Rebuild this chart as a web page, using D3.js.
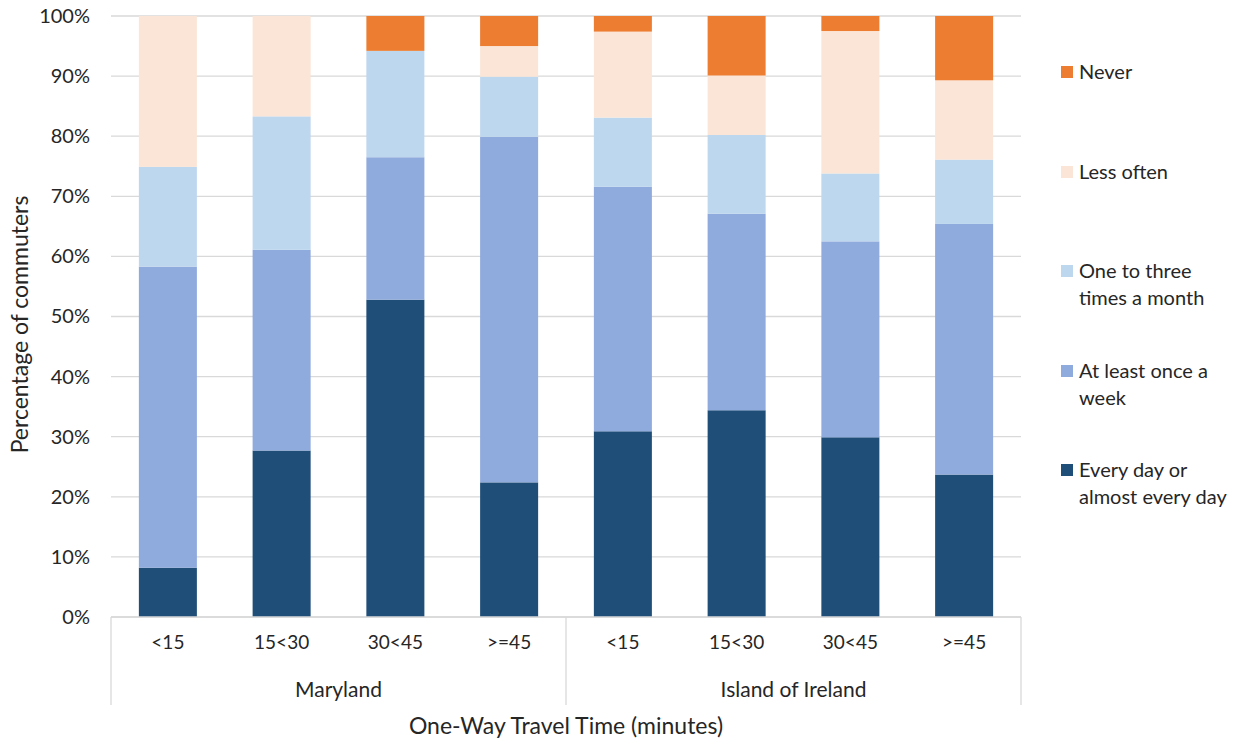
<!DOCTYPE html>
<html>
<head>
<meta charset="utf-8">
<script src="https://cdn.jsdelivr.net/npm/d3@7"></script>
<style>
  body { margin: 0; background: #fff; }
  svg text { font-family: Lato, "Liberation Sans", sans-serif; fill: #262626; }
</style>
</head>
<body>
<div id="chart"></div>
<script>
// Categories
const regions = ["Maryland", "Island of Ireland"];
const travelTimes = ["<15", "15<30", "30<45", ">=45"];
const seriesNames = ["Every day or almost every day", "At least once a week", "One to three times a month", "Less often", "Never"];
const seriesColors = ["#1f4e79", "#8faadc", "#bdd7ee", "#fbe5d6", "#ed7d31"];
const yTicks = [0, 10, 20, 30, 40, 50, 60, 70, 80, 90, 100];

// Values (%) per series, in order Maryland <15..>=45, Ireland <15..>=45
const everyDay     = [8.2, 27.7, 52.8, 22.4, 30.9, 34.4, 29.9, 23.7];
const weekly       = [50.1, 33.4, 23.7, 57.5, 40.7, 32.7, 32.6, 41.7];
const monthly      = [16.6, 22.2, 17.7, 10.0, 11.5, 13.1, 11.3, 10.7];
const lessOften    = [25.1, 16.7, 0.0, 5.1, 14.3, 9.9, 23.7, 13.2];
const never        = [0.0, 0.0, 5.8, 5.0, 2.6, 9.9, 2.5, 10.7];

const seriesValues = [everyDay, weekly, monthly, lessOften, never];

// Build rows for the stack
const rows = [];
regions.forEach((r, ri) => {
    travelTimes.forEach((t, ti) => {
        const idx = ri * travelTimes.length + ti;
        const row = {key: r + "|" + t, region: r, time: t};
        seriesNames.forEach((s, si) => { row[s] = seriesValues[si][idx]; });
        rows.push(row);
    });
});

const W = 1247, H = 742;
const margin = {top: 16, right: 226, bottom: 125, left: 111};
const width = W - margin.left - margin.right;
const height = H - margin.top - margin.bottom;

const svg = d3.select("#chart").append("svg")
    .attr("width", W)
    .attr("height", H);

const g = svg.append("g")
    .attr("transform", `translate(${margin.left},${margin.top})`);

const x = d3.scaleBand()
    .domain(rows.map(d => d.key))
    .range([0, width])
    .paddingInner(0.49)
    .paddingOuter(0.245);

const y = d3.scaleLinear()
    .domain([0, 100])
    .range([height, 0]);

// Gridlines
g.append("g")
    .selectAll("line")
    .data(yTicks)
    .join("line")
    .attr("x1", 0)
    .attr("x2", width)
    .attr("y1", d => y(d))
    .attr("y2", d => y(d))
    .attr("stroke", "#d9d9d9")
    .attr("stroke-width", 1.3);

// Y axis labels
const yAxis = d3.axisLeft(y).tickValues(yTicks).tickFormat(d => d + "%").tickSize(0).tickPadding(21);
g.append("g")
    .call(yAxis)
    .call(a => a.select(".domain").remove())
    .selectAll("text")
    .style("font-size", "20px")
    .attr("fill", "#262626");

// Stacked bars
const stack = d3.stack().keys(seriesNames);
const stacked = stack(rows);

g.append("g")
    .selectAll("g")
    .data(stacked)
    .join("g")
    .attr("fill", (d, i) => seriesColors[i])
    .selectAll("rect")
    .data(d => d)
    .join("rect")
    .attr("x", d => x(d.data.key))
    .attr("width", x.bandwidth())
    .attr("y", d => y(d[1]))
    .attr("height", d => Math.max(0, y(d[0]) - y(d[1])));

// X axis: inner labels
const xAxis = d3.axisBottom(x).tickFormat(k => k.split("|")[1]).tickSize(0).tickPadding(19);
g.append("g")
    .attr("transform", `translate(0,${height})`)
    .call(xAxis)
    .call(a => a.select(".domain").remove())
    .selectAll("text")
    .style("font-size", "19px")
    .attr("fill", "#262626");

// Bottom axis line and group separators
g.append("line")
    .attr("x1", 0).attr("x2", width)
    .attr("y1", height).attr("y2", height)
    .attr("stroke", "#d9d9d9").attr("stroke-width", 1.3);

const step = x.step();
const groupEdges = [0, step * travelTimes.length, width];
g.append("g")
    .selectAll("line")
    .data(groupEdges)
    .join("line")
    .attr("x1", d => d).attr("x2", d => d)
    .attr("y1", height).attr("y2", height + 88)
    .attr("stroke", "#d9d9d9").attr("stroke-width", 1.3);

// Group labels
g.append("g")
    .selectAll("text")
    .data(regions)
    .join("text")
    .attr("x", (d, i) => (groupEdges[i] + groupEdges[i + 1]) / 2)
    .attr("y", height + 80)
    .attr("text-anchor", "middle")
    .style("font-size", "21px")
    .text(d => d);

// Axis titles
g.append("text")
    .attr("x", width / 2)
    .attr("y", height + 117)
    .attr("text-anchor", "middle")
    .style("font-size", "23px")
    .text("One-Way Travel Time (minutes)");

svg.append("text")
    .attr("transform", `translate(28,${margin.top + height / 2 + 8}) rotate(-90)`)
    .attr("text-anchor", "middle")
    .style("font-size", "23px")
    .text("Percentage of commuters");

// Legend (top-down: Never first)
const legendItems = [
    {name: "Never", lines: ["Never"], color: seriesColors[4]},
    {name: "Less often", lines: ["Less often"], color: seriesColors[3]},
    {name: "One to three times a month", lines: ["One to three", "times a month"], color: seriesColors[2]},
    {name: "At least once a week", lines: ["At least once a", "week"], color: seriesColors[1]},
    {name: "Every day or almost every day", lines: ["Every day or", "almost every day"], color: seriesColors[0]}
];
const legendY = [72, 172, 271, 371, 470];

const legend = svg.append("g").attr("transform", "translate(1061,0)");
const li = legend.selectAll("g")
    .data(legendItems)
    .join("g")
    .attr("transform", (d, i) => `translate(0,${legendY[i]})`);

li.append("rect")
    .attr("x", 0).attr("y", -6)
    .attr("width", 12).attr("height", 12)
    .attr("fill", d => d.color);

li.append("text")
    .attr("x", 18)
    .attr("y", 0)
    .style("font-size", "20px")
    .selectAll("tspan")
    .data(d => d.lines)
    .join("tspan")
    .attr("x", 18)
    .attr("dy", (d, i) => i === 0 ? "0.35em" : "1.33em")
    .text(d => d);
</script>
</body>
</html>
